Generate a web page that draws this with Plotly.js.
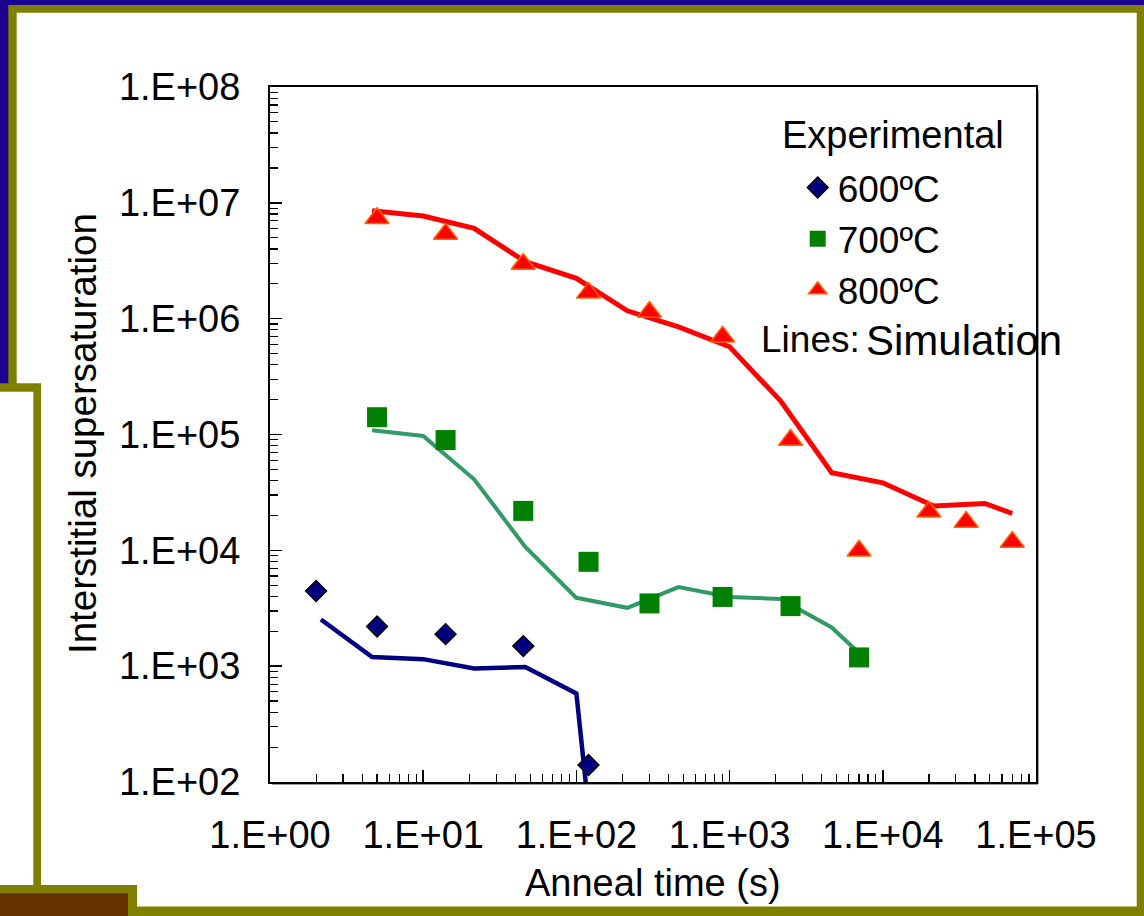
<!DOCTYPE html>
<html><head><meta charset="utf-8">
<script src="https://cdn.plot.ly/plotly-3.0.1.min.js"></script>
<style>html,body{margin:0;padding:0;background:#fff;overflow:hidden;} #chart{width:1144px;height:916px;}</style>
</head><body><div id="chart"></div>
<script>
// Experimental data (anneal time s, interstitial supersaturation)
const expTime600 = [2, 5, 14, 45, 120];
const exp600 = [4450, 2200, 1890, 1490, 140];
const expTime700 = [5, 14, 45, 120, 300, 900, 2500, 7000];
const exp700 = [141000, 89500, 21900, 7960, 3480, 3960, 3300, 1190];
const expTime800 = [5, 14, 45, 120, 300, 900, 2500, 7000, 20000, 35000, 70000];
const exp800 = [7350000, 5380000, 2960000, 1670000, 1140000, 698000, 89500, 9900, 21500, 17600, 11800];
// Simulation lines
const simTime600 = [2.15, 4.64, 10, 21.5, 46.4, 100, 117];
const sim600 = [2530, 1200, 1150, 955, 985, 581, 80];
const simTime700 = [4.64, 10, 21.5, 46.4, 100, 215, 464, 1000, 2150, 4640, 7000];
const sim700 = [109000, 97000, 41000, 10700, 3890, 3190, 4810, 3960, 3800, 2160, 1300];
const simTime800 = [4.64, 10, 21.5, 46.4, 100, 215, 464, 1000, 2150, 4640, 10000, 21500, 46400, 70000];
const sim800 = [8550000, 7690000, 6020000, 3100000, 2230000, 1170000, 850000, 572000, 195000, 46700, 38300, 24100, 25400, 20800];
// Axis ticks
const xTickVals = [1, 10, 100, 1000, 10000, 100000];
const xTickText = ['1.E+00', '1.E+01', '1.E+02', '1.E+03', '1.E+04', '1.E+05'];
const yTickVals = [100, 1000, 10000, 100000, 1000000, 10000000, 100000000];
const yTickText = ['1.E+02', '1.E+03', '1.E+04', '1.E+05', '1.E+06', '1.E+07', '1.E+08'];
const seriesNames = ['600ºC', '700ºC', '800ºC'];

const FONT = 'Liberation Sans, Arial, sans-serif';
const L = 270, R = 1036, T = 87, B = 782;
function px(x) { return (x - L) / (R - L); }
function py(y) { return (B - y) / (B - T); }
function rect(x0, y0, x1, y1, color) {
  return {type: 'rect', xref: 'paper', yref: 'paper', layer: 'below',
    x0: px(x0), x1: px(x1), y0: py(y0), y1: py(y1), fillcolor: color, line: {width: 0}};
}
function seg(x0, y0, x1, y1, color, w) {
  return {type: 'line', xref: 'paper', yref: 'paper', layer: 'below',
    x0: px(x0), x1: px(x1), y0: py(y0), y1: py(y1), line: {color: color, width: w}};
}
const NAVY = '#1c0090', OLIVE = '#808000', BROWN = '#663300';

const traces = [
  {x: simTime600, y: sim600, mode: 'lines', line: {color: '#000080', width: 4.5}, showlegend: false, hoverinfo: 'skip'},
  {x: simTime700, y: sim700, mode: 'lines', line: {color: '#339966', width: 4}, showlegend: false, hoverinfo: 'skip'},
  {x: simTime800, y: sim800, mode: 'lines', line: {color: '#ff0000', width: 5}, showlegend: false, hoverinfo: 'skip'},
  {x: expTime600, y: exp600, mode: 'markers', name: seriesNames[0],
   marker: {symbol: 'diamond', size: 16, color: '#000080', line: {color: '#000000', width: 1.5}}},
  {x: expTime700, y: exp700, mode: 'markers', name: seriesNames[1],
   marker: {symbol: 'square', size: 20, color: '#008000', line: {color: '#008000', width: 0}}},
  {x: expTime800, y: exp800, mode: 'markers', name: seriesNames[2],
   marker: {symbol: 'triangle-up', size: 21, color: '#ff0000', line: {color: '#ff6600', width: 1.5}}}
];

const axisCommon = {
  type: 'log', showgrid: false, zeroline: false, showline: true, linecolor: '#000', linewidth: 2,
  mirror: true, ticks: 'inside', ticklen: 12, tickwidth: 1.5, tickcolor: '#000',
  tickfont: {family: FONT, size: 38, color: '#000'},
  minor: {ticks: 'inside', ticklen: 8, tickwidth: 1.2, tickcolor: '#000', dtick: 'D1', showgrid: false}
};

const layout = {
  width: 1144, height: 916,
  margin: {l: L, r: 1144 - R, t: T, b: 916 - B, pad: 0},
  paper_bgcolor: NAVY, plot_bgcolor: 'rgba(0,0,0,0)',
  font: {family: FONT, color: '#000'},
  xaxis: Object.assign({}, axisCommon, {range: [0, 5], tickmode: 'array', tickvals: xTickVals, ticktext: xTickText, ticklabelstandoff: 18}),
  yaxis: Object.assign({}, axisCommon, {range: [2, 8], tickmode: 'array', tickvals: yTickVals, ticktext: yTickText, ticklabelstandoff: 20}),
  showlegend: true,
  legend: {x: px(797.7), y: py(157), xanchor: 'left', yanchor: 'top', bgcolor: 'rgba(0,0,0,0)', borderwidth: 0,
    font: {family: FONT, size: 37, color: '#000'}, traceorder: 'normal'},
  shapes: [
    rect(8.3, 5, 1160, 930, OLIVE),
    rect(16.7, 12.7, 1136.7, 906.5, '#ffffff'),
    rect(-10, 383.3, 41, 893.3, OLIVE),
    rect(-10, 391.7, 33.3, 885, '#ffffff'),
    rect(-10, 885, 137, 930, OLIVE),
    rect(-10, 893.3, 128, 930, BROWN),
    seg(1038, 90, 1038, 784, '#a0a0a0', 2),
    seg(272, 784, 1038, 784, '#a0a0a0', 2)
  ],
  annotations: [
    {text: 'Experimental', xref: 'paper', yref: 'paper', x: px(892.5), y: py(135), xanchor: 'center', yanchor: 'middle', showarrow: false, font: {family: FONT, size: 38}},
    {text: 'Lines:', xref: 'paper', yref: 'paper', x: px(759), y: py(339), xanchor: 'left', yanchor: 'middle', showarrow: false, font: {family: FONT, size: 37}},
    {text: 'Simulation', xref: 'paper', yref: 'paper', x: px(864), y: py(340), xanchor: 'left', yanchor: 'middle', showarrow: false, font: {family: FONT, size: 42}},
    {text: 'Interstitial supersaturation', xref: 'paper', yref: 'paper', x: px(82), y: py(434), xanchor: 'center', yanchor: 'middle', textangle: -90, showarrow: false, font: {family: FONT, size: 38.5}},
    {text: 'Anneal time (s)', xref: 'paper', yref: 'paper', x: px(653), y: py(883), xanchor: 'center', yanchor: 'middle', showarrow: false, font: {family: FONT, size: 38}}
  ]
};

Plotly.newPlot('chart', traces, layout, {displayModeBar: false, staticPlot: true});
</script></body></html>
